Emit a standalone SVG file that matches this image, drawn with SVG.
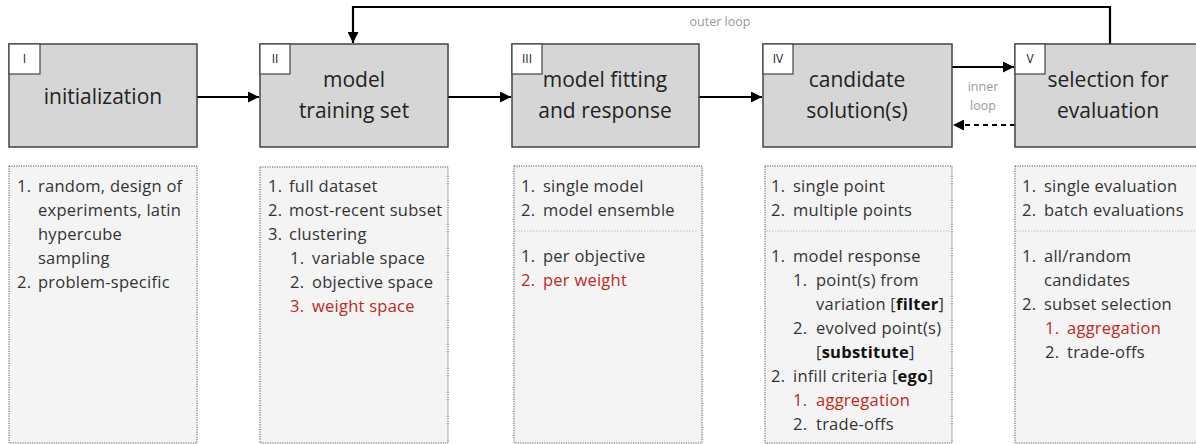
<svg xmlns="http://www.w3.org/2000/svg" width="1196" height="444" viewBox="0 0 1196 444">
<style>
.stage{fill:#d6d6d6;stroke:#444;stroke-width:1.5}
.tag{fill:#fff;stroke:#444;stroke-width:1.2}
.tagt{font-family:"Open Sans",Lato,sans-serif;font-size:12px;fill:#222;text-anchor:middle}
.title{font-family:"Open Sans",Lato,sans-serif;font-size:21px;fill:#222;text-anchor:middle}
.panel{fill:#f4f4f4;stroke:#555;stroke-width:1;stroke-dasharray:1.2 1.2}
.sep{stroke:#bbb;stroke-width:1;stroke-dasharray:1.5 1.5}
.li{font-family:"Open Sans",Lato,sans-serif;font-size:16.5px;letter-spacing:0.25px;fill:#333}
.red{fill:#c0281a;font-weight:500}
.b{font-weight:bold;fill:#111}
.conn{stroke:#000;stroke-width:2.2;fill:none}
.dash{stroke-dasharray:5 4}
.note{font-family:"Open Sans",Lato,sans-serif;font-size:12.5px;fill:#999;text-anchor:middle}
</style>
<defs>
<marker id="ah" viewBox="0 0 10 10" refX="10" refY="5" markerWidth="5" markerHeight="5" markerUnits="strokeWidth" orient="auto">
<path d="M0,0 L10,5 L0,10 z" fill="#000"/>
</marker>
</defs>

<g id="connectors">
<path class="conn" d="M1110,44 V7 H353 V43" marker-end="url(#ah)"/>
<path class="conn" d="M197,97 H259" marker-end="url(#ah)"/>
<path class="conn" d="M448,97 H511" marker-end="url(#ah)"/>
<path class="conn" d="M699,97 H762" marker-end="url(#ah)"/>
<path class="conn" d="M952,67 H1014" marker-end="url(#ah)"/>
<path class="conn dash" d="M1015,125 H953" marker-end="url(#ah)"/>
<text class="note" x="720" y="26">outer loop</text>
<text class="note" x="983" y="91">inner</text>
<text class="note" x="983" y="110">loop</text>
</g>

<g id="stage-I">
<rect class="stage" x="9" y="44" width="188" height="103"/>
<rect class="tag" x="9" y="44" width="31" height="30"/>
<text class="tagt" x="24.5" y="63">I</text>
<text class="title" x="103" y="104">initialization</text>
</g>
<g id="stage-II">
<rect class="stage" x="260" y="44" width="188" height="103"/>
<rect class="tag" x="260" y="44" width="30" height="30"/>
<text class="tagt" x="275" y="63">II</text>
<text class="title" x="354" y="87">model</text>
<text class="title" x="354" y="118">training set</text>
</g>
<g id="stage-III">
<rect class="stage" x="512" y="44" width="187" height="103"/>
<rect class="tag" x="512" y="44" width="30" height="30"/>
<text class="tagt" x="527" y="63">III</text>
<text class="title" x="605" y="87">model fitting</text>
<text class="title" x="605" y="118">and response</text>
</g>
<g id="stage-IV">
<rect class="stage" x="763" y="44" width="189" height="103"/>
<rect class="tag" x="763" y="44" width="30" height="30"/>
<text class="tagt" x="778" y="63">IV</text>
<text class="title" x="857" y="87">candidate</text>
<text class="title" x="857" y="118">solution(s)</text>
</g>
<g id="stage-V">
<rect class="stage" x="1015" y="44" width="200" height="103"/>
<rect class="tag" x="1015" y="44" width="30" height="30"/>
<text class="tagt" x="1030" y="63">V</text>
<text class="title" x="1108" y="87">selection for</text>
<text class="title" x="1108" y="118">evaluation</text>
</g>

<g id="panel-I">
<rect class="panel" x="9" y="166" width="188" height="277"/>
<text class="li" x="17" y="192">1.</text><text class="li" x="38" y="192">random, design of</text>
<text class="li" x="38" y="216">experiments, latin</text>
<text class="li" x="38" y="240">hypercube</text>
<text class="li" x="38" y="264">sampling</text>
<text class="li" x="17" y="288">2.</text><text class="li" x="38" y="288">problem-specific</text>
</g>
<g id="panel-II">
<rect class="panel" x="260" y="167" width="188" height="276"/>
<text class="li" x="268" y="192">1.</text><text class="li" x="289" y="192">full dataset</text>
<text class="li" x="268" y="216">2.</text><text class="li" x="289" y="216">most-recent subset</text>
<text class="li" x="268" y="240">3.</text><text class="li" x="289" y="240">clustering</text>
<text class="li" x="290" y="264">1.</text><text class="li" x="312" y="264">variable space</text>
<text class="li" x="290" y="288">2.</text><text class="li" x="312" y="288">objective space</text>
<text class="li red" x="290" y="312">3.</text><text class="li red" x="312" y="312">weight space</text>
</g>
<g id="panel-III">
<rect class="panel" x="514" y="166" width="188" height="277"/>
<text class="li" x="521" y="192">1.</text><text class="li" x="543" y="192">single model</text>
<text class="li" x="521" y="216">2.</text><text class="li" x="543" y="216">model ensemble</text>
<line class="sep" x1="515" y1="231" x2="698" y2="231"/>
<text class="li" x="521" y="262">1.</text><text class="li" x="543" y="262">per objective</text>
<text class="li red" x="521" y="286">2.</text><text class="li red" x="543" y="286">per weight</text>
</g>
<g id="panel-IV">
<rect class="panel" x="765" y="166" width="187" height="277"/>
<text class="li" x="771" y="192">1.</text><text class="li" x="793" y="192">single point</text>
<text class="li" x="771" y="216">2.</text><text class="li" x="793" y="216">multiple points</text>
<line class="sep" x1="766" y1="231" x2="950" y2="231"/>
<text class="li" x="771" y="262">1.</text><text class="li" x="793" y="262">model response</text>
<text class="li" x="793" y="286">1.</text><text class="li" x="816" y="286">point(s) from</text>
<text class="li" x="816" y="310">variation [<tspan class="b">filter</tspan>]</text>
<text class="li" x="793" y="334">2.</text><text class="li" x="816" y="334">evolved point(s)</text>
<text class="li" x="816" y="358">[<tspan class="b">substitute</tspan>]</text>
<text class="li" x="771" y="382">2.</text><text class="li" x="793" y="382">infill criteria [<tspan class="b">ego</tspan>]</text>
<text class="li red" x="793" y="406">1.</text><text class="li red" x="816" y="406">aggregation</text>
<text class="li" x="793" y="430">2.</text><text class="li" x="816" y="430">trade-offs</text>
</g>
<g id="panel-V">
<rect class="panel" x="1015" y="166" width="200" height="277"/>
<text class="li" x="1022" y="192">1.</text><text class="li" x="1044" y="192">single evaluation</text>
<text class="li" x="1022" y="216">2.</text><text class="li" x="1044" y="216">batch evaluations</text>
<line class="sep" x1="1016" y1="231" x2="1196" y2="231"/>
<text class="li" x="1022" y="262">1.</text><text class="li" x="1044" y="262">all/random</text>
<text class="li" x="1044" y="286">candidates</text>
<text class="li" x="1022" y="310">2.</text><text class="li" x="1044" y="310">subset selection</text>
<text class="li red" x="1045" y="334">1.</text><text class="li red" x="1067" y="334">aggregation</text>
<text class="li" x="1045" y="358">2.</text><text class="li" x="1067" y="358">trade-offs</text>
</g>
</svg>
